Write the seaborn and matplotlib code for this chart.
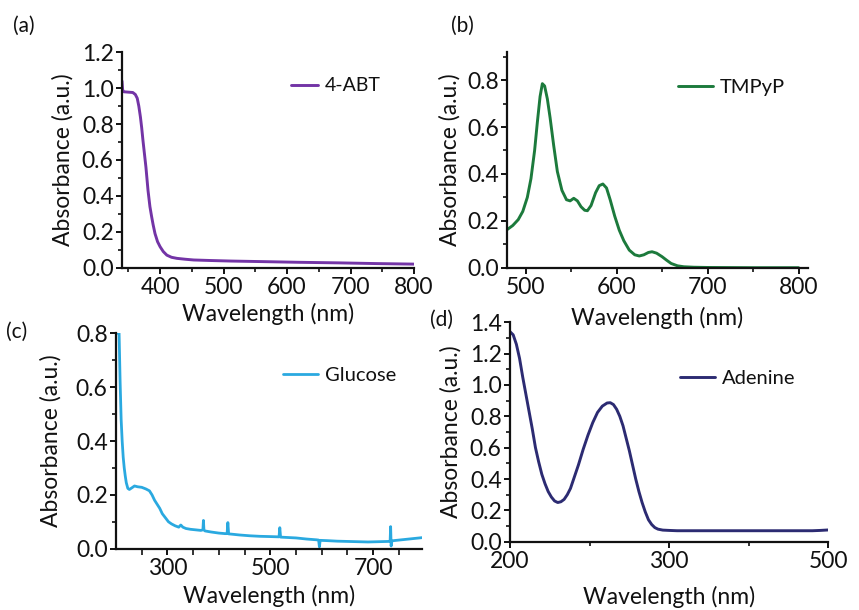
import numpy as np
import pandas as pd
import matplotlib
matplotlib.use("Agg")
import matplotlib.pyplot as plt
from matplotlib.ticker import FixedLocator, MultipleLocator, FixedFormatter, NullFormatter
import seaborn as sns

# ---------------- data ----------------
abt_wl = [340, 341, 343, 350, 357, 361, 364, 366.5, 369, 371, 373, 375.5, 377.7, 381, 384,
          386.7, 389, 392, 396, 400, 405, 410.6, 418, 426.6, 440, 453, 480, 512, 560, 620,
          680, 740, 800]
abt_abs = [1.04, 0.99, 0.98, 0.978, 0.976, 0.965, 0.944, 0.90, 0.84, 0.78, 0.71, 0.63, 0.56,
           0.43, 0.34, 0.284, 0.24, 0.19, 0.145, 0.117, 0.09, 0.07, 0.058, 0.052, 0.047,
           0.043, 0.04, 0.037, 0.034, 0.03, 0.027, 0.023, 0.02]

tmpyp_wl = [480, 486, 492, 497, 502, 506, 510, 513, 516, 518.5, 521, 524, 527, 531, 535, 540,
            545, 549, 553, 557, 561, 565, 568, 572, 577, 581, 585, 589, 593, 598, 603, 608,
            614, 620, 625, 630, 635, 639, 644, 650, 655, 660, 667, 674, 685, 700, 750, 800]
tmpyp_abs = [0.163, 0.18, 0.205, 0.24, 0.30, 0.38, 0.50, 0.62, 0.73, 0.785, 0.775, 0.72, 0.64,
             0.52, 0.41, 0.33, 0.29, 0.285, 0.296, 0.285, 0.26, 0.245, 0.243, 0.265, 0.32,
             0.35, 0.357, 0.34, 0.29, 0.22, 0.16, 0.115, 0.075, 0.055, 0.05, 0.055, 0.065,
             0.068, 0.062, 0.047, 0.032, 0.018, 0.008, 0.004, 0.002, 0.001, 0.0, 0.0]

glu_wl = [204, 206, 208, 210, 212, 214, 216, 218, 220, 223, 226, 230, 236, 242, 250, 258, 265,
          270, 275, 280, 285, 290, 296, 302, 308, 315, 322, 326, 330, 336, 345, 355, 365,
          369, 370, 371, 373, 385, 400, 412, 416, 417.5, 419, 425, 440, 460, 480, 500, 517,
          518.5, 520, 530, 550, 570, 590, 594, 595.5, 597, 610, 630, 650, 670, 690, 710,
          730, 733, 734, 735, 736, 740, 760, 780, 795]
glu_abs = [0.80, 0.80, 0.62, 0.48, 0.40, 0.34, 0.30, 0.27, 0.245, 0.224, 0.22, 0.225, 0.233,
           0.23, 0.228, 0.222, 0.215, 0.20, 0.18, 0.165, 0.15, 0.13, 0.115, 0.10, 0.092,
           0.085, 0.08, 0.088, 0.08, 0.075, 0.072, 0.07, 0.068, 0.07, 0.105, 0.07, 0.066,
           0.062, 0.058, 0.056, 0.056, 0.097, 0.055, 0.054, 0.051, 0.048, 0.046, 0.045, 0.044,
           0.078, 0.043, 0.042, 0.04, 0.036, 0.033, 0.032, 0.007, 0.031, 0.03, 0.028, 0.027,
           0.026, 0.025, 0.026, 0.027, 0.028, 0.082, 0.01, 0.028, 0.03, 0.034, 0.038, 0.041]

ade_wl = [200, 202, 204, 206, 208, 210, 212, 214, 216, 218, 220, 222, 224, 226, 228, 230, 232,
          234, 236, 238, 240, 243, 246, 249, 252, 255, 258, 261, 263, 265, 267, 269, 271, 273,
          275, 277, 279, 281, 283, 285, 287, 289, 291, 293, 296, 300, 310, 350, 400, 450,
          480, 490, 500]
ade_abs = [1.34, 1.32, 1.26, 1.17, 1.05, 0.94, 0.83, 0.72, 0.60, 0.51, 0.43, 0.37, 0.32, 0.285,
           0.26, 0.25, 0.255, 0.27, 0.30, 0.34, 0.40, 0.49, 0.59, 0.68, 0.76, 0.825, 0.865,
           0.885, 0.887, 0.875, 0.845, 0.80, 0.74, 0.66, 0.58, 0.49, 0.40, 0.32, 0.25, 0.19,
           0.14, 0.11, 0.09, 0.08, 0.074, 0.072, 0.07, 0.07, 0.07, 0.07, 0.07, 0.072, 0.075]

names = ["4-ABT", "TMPyP", "Glucose", "Adenine"]
colors = ["#7334A6", "#1C7A3C", "#2AA9E0", "#2C2B72"]
panel_labels = ["(a)", "(b)", "(c)", "(d)"]

# ---------------- style ----------------
sns.set_theme(style="ticks")
plt.rcParams["font.family"] = ["Lato", "DejaVu Sans"]
plt.rcParams.update({
    "axes.linewidth": 1.6,
    "axes.edgecolor": "#111111",
    "xtick.major.width": 1.4, "ytick.major.width": 1.4,
    "xtick.minor.width": 1.2, "ytick.minor.width": 1.2,
    "xtick.major.size": 4, "ytick.major.size": 4,
    "xtick.minor.size": 3, "ytick.minor.size": 3,
    "xtick.direction": "out", "ytick.direction": "out",
    "xtick.color": "#111111", "ytick.color": "#111111",
    "text.color": "#111111", "axes.labelcolor": "#111111",
    "xtick.major.pad": 3, "ytick.major.pad": 2,
})

W, H = 859, 610
fig = plt.figure(figsize=(W / 100, H / 100), dpi=100)

def add_axes(x0, x1, ytop, ybot):
    ax = fig.add_axes([x0 / W, 1 - ybot / H, (x1 - x0) / W, (ybot - ytop) / H])
    ax.patch.set_alpha(0)
    return ax

axA = add_axes(122, 414, 52.3, 267.7)
axB = add_axes(507.3, 807.7, 52, 267.7)
axC = add_axes(116, 422, 333.3, 548.7)
axD = add_axes(510, 828.3, 322.3, 541.7)
axes = [axA, axB, axC, axD]

datasets = [(abt_wl, abt_abs), (tmpyp_wl, tmpyp_abs), (glu_wl, glu_abs), (ade_wl, ade_abs)]
lw = [2.1, 2.1, 2.0, 2.1]

for ax, (wl, ab), name, col, w in zip(axes, datasets, names, colors, lw):
    df = pd.DataFrame({"Wavelength": wl, "Absorbance": ab, "Sample": name})
    sns.lineplot(data=df, x="Wavelength", y="Absorbance", hue="Sample",
                 palette=[col], ax=ax, linewidth=w, sort=False, estimator=None)
    sns.despine(ax=ax)
    ax.tick_params(labelsize=16.5)
    ax.set_xlabel("Wavelength (nm)", fontsize=16.5)
    ax.set_ylabel("Absorbance (a.u.)", fontsize=16.5)

# (a)
axA.set_xlim(340, 800)
axA.set_ylim(0, 1.2)
axA.xaxis.set_major_locator(FixedLocator([400, 500, 600, 700, 800]))
axA.xaxis.set_minor_locator(FixedLocator([350, 450, 550, 650, 750]))
axA.yaxis.set_major_locator(MultipleLocator(0.2))
axA.yaxis.set_minor_locator(MultipleLocator(0.1))
axA.set_yticklabels([f"{v:.1f}" for v in axA.get_yticks()])

# (b)
axB.set_xlim(480, 810)
axB.set_ylim(0, 0.92)
axB.xaxis.set_major_locator(FixedLocator([500, 600, 700, 800]))
axB.xaxis.set_minor_locator(FixedLocator([550, 650, 750]))
axB.yaxis.set_major_locator(FixedLocator([0, 0.2, 0.4, 0.6, 0.8]))
axB.yaxis.set_minor_locator(FixedLocator([0.1, 0.3, 0.5, 0.7, 0.9]))
axB.set_yticklabels(["0.0", "0.2", "0.4", "0.6", "0.8"])

# (c)
axC.set_xlim(200, 795)
axC.set_ylim(0, 0.8)
axC.xaxis.set_major_locator(FixedLocator([300, 500, 700]))
axC.xaxis.set_minor_locator(FixedLocator([250, 350, 400, 450, 550, 600, 650, 750]))
axC.yaxis.set_major_locator(FixedLocator([0, 0.2, 0.4, 0.6, 0.8]))
axC.yaxis.set_minor_locator(FixedLocator([0.1, 0.3, 0.5, 0.7]))
axC.set_yticklabels(["0.0", "0.2", "0.4", "0.6", "0.8"])
axC.tick_params(axis="x", which="minor", length=4)

# (d) broken axis: 200-300 and 300-500 each take half of the width
def fwd(x):
    x = np.asarray(x, dtype=float)
    return np.where(x <= 300, x, 300 + (x - 300) / 2)

def inv(y):
    y = np.asarray(y, dtype=float)
    return np.where(y <= 300, y, 300 + (y - 300) * 2)

axD.set_xscale("function", functions=(fwd, inv))
axD.set_xlim(200, 500)
axD.set_ylim(0, 1.4)
axD.xaxis.set_major_locator(FixedLocator([200, 300, 500]))
axD.xaxis.set_minor_locator(FixedLocator([250, 400]))
axD.xaxis.set_major_formatter(FixedFormatter(["200", "300", "500"]))
axD.xaxis.set_minor_formatter(NullFormatter())
axD.yaxis.set_major_locator(FixedLocator([0, 0.2, 0.4, 0.6, 0.8, 1.0, 1.2, 1.4]))
axD.yaxis.set_minor_locator(FixedLocator([0.1, 0.3, 0.5, 0.7, 0.9, 1.1, 1.3]))
axD.set_yticklabels([f"{v:.1f}" for v in [0, 0.2, 0.4, 0.6, 0.8, 1.0, 1.2, 1.4]])

# label paddings
axA.xaxis.labelpad = 3
axB.xaxis.labelpad = 6
axC.xaxis.labelpad = 4
axD.xaxis.labelpad = 10
axA.yaxis.labelpad = 6
axB.yaxis.labelpad = 5
axC.yaxis.labelpad = 10
axD.yaxis.labelpad = 6

# legends
leg_pos = [(0.579, 0.8436), (0.568, 0.834), (0.546, 0.806), (0.534, 0.746)]
leg_hl = [1.4, 1.75, 1.75, 1.75]
leg_fs = [14, 14.5, 14.5, 14.5]
for ax, pos, hl, fs in zip(axes, leg_pos, leg_hl, leg_fs):
    ax.legend(loc="center left", bbox_to_anchor=pos, frameon=False, fontsize=fs,
              handlelength=hl, handletextpad=0.35, borderpad=0, borderaxespad=0,
              title=None)

# panel labels
for lab, (px, py) in zip(panel_labels, [(13, 26), (451, 26), (6, 332), (430, 320)]):
    fig.text(px / W, 1 - py / H, lab, fontsize=15, va="center", ha="left")

fig.savefig("out.png", dpi=100)
